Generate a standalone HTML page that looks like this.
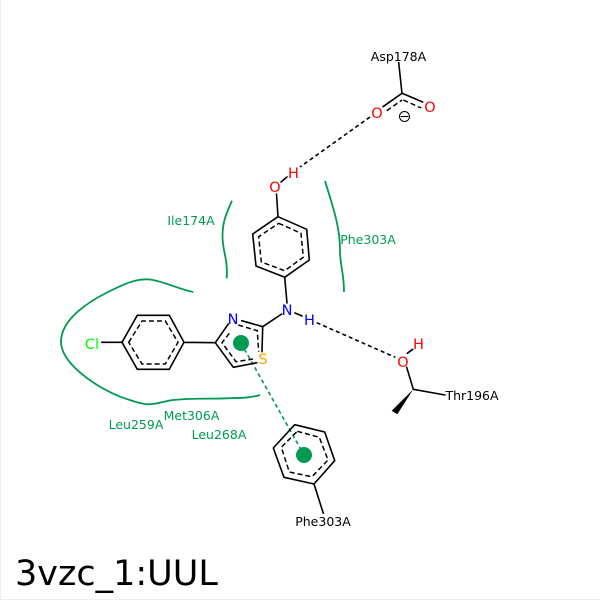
<!DOCTYPE html>
<html>
<head>
<meta charset="utf-8">
<style>
html,body{margin:0;padding:0;background:#fff}
svg{display:block}
text{font-family:"DejaVu Sans",sans-serif}
.b{stroke:#000;stroke-width:1.6;fill:none;stroke-linecap:round;stroke-linejoin:round}
.d{stroke:#000;stroke-width:1.5;fill:none;stroke-dasharray:5 3}
.h{stroke:#000;stroke-width:1.6;fill:none;stroke-dasharray:4 3}
.g{stroke:#009a52;stroke-width:1.8;fill:none}
.l{font-size:12.5px;fill:#000;text-anchor:middle}
.lg{font-size:12.5px;fill:#009a52;text-anchor:middle}
.a{font-size:14.5px;text-anchor:middle}
</style>
</head>
<body>
<svg width="600" height="600" viewBox="0 0 600 600" xmlns="http://www.w3.org/2000/svg">
<rect width="600" height="600" fill="#fff"/>
<path d="M0.5,0V599.5H600" stroke="#eee" fill="none"/>

<!-- green curves -->
<path class="g" d="M232,200.7C226,214 222.5,222 222.5,236C222.5,252 228,258 226.7,278.3"/>
<path class="g" d="M325,181C334,210 340,228 340,250C340,266 344,272 344,292"/>
<path class="g" d="M193.3,292C178,289 166,282 150,279.5C136,278 122,285 108,292C92,300 61,318 61,341.7C61,362 92,385 120,396.7C130,400 140,404 148.3,404.3C157,404.5 164,401 173.3,400C190,398 210,399 226.7,398.3C240,398 250,398 260,395"/>

<!-- hydrophobic contact -->
<line x1="241" y1="343" x2="304" y2="455" stroke="#009a52" stroke-width="1.6" stroke-dasharray="4 3"/>
<circle cx="241" cy="343" r="8" fill="#009a52"/>
<circle cx="304" cy="455" r="8" fill="#009a52"/>

<!-- Asp -->
<path class="b" d="M398.7,62.7L402,93.3L383,106.7M402,93.3L422.7,102"/>
<path class="d" d="M386.7,110.7L402,100M403.3,100L421.3,108" stroke-dasharray="4 3"/>
<circle cx="404.5" cy="116.5" r="5" fill="none" stroke="#000" stroke-width="1"/>
<line x1="400.5" y1="116.5" x2="408.5" y2="116.5" stroke="#000" stroke-width="1"/>

<!-- H bonds -->
<path class="h" d="M370,117L300,167"/>
<path class="h" d="M316.7,322.7L395.3,357.3"/>

<!-- top ring -->
<path class="b" d="M281,182L287,177M276.5,194L278,216.7L306.7,229.3L309.3,260L284.7,277.3L256,266L252.7,234L278,216.7M284.7,277.3L287,303M281.7,314L262.7,326.7M295,313L302,316"/>
<path class="d" d="M278.7,223.3L301,233.3L303.3,257.3L284.7,270.7L261.3,262L258.7,236.7Z"/>

<!-- thiazole -->
<path class="b" d="M228.3,324L215.3,342.7L233.3,367.3L256.7,362.7M241.7,320.7L262.7,326.7L262,351.7"/>
<path class="d" d="M229.3,333.3L222,342.7L236,361.7L253,359M238.3,325L257.3,330.7L258.7,351.7" stroke-dasharray="4 3"/>

<!-- chlorophenyl -->
<path class="b" d="M101.7,342.3L122,342.3L137.3,315.3L169.3,315.3L184,342.3L169.3,369.3L137.3,369.3L122,342.3M184,342.3L215.3,342.7"/>
<path class="d" d="M128.7,342.3L142,321L165.3,321L178,342.3L165.3,364L142,364Z"/>

<!-- bottom ring -->
<path class="b" d="M294.7,424.7L324.7,432L334.7,460.7L314,484L284,477.3L273.3,448ZM314,484L323.3,513.3"/>
<path class="d" d="M297.3,431.3L319.3,437.3L328,460L312,476.7L289.3,472L281.3,447.3Z"/>

<!-- Thr -->
<path class="b" d="M407.3,353.3L412.7,349.3M406.7,367.3L413.3,389.3L445,395"/>
<polygon points="413.3,389.3 391.7,410.7 397.3,414.3" fill="#000"/>

<!-- atoms -->
<text class="a" x="377" y="118" fill="#ff0000">O</text>
<text class="a" x="430" y="112" fill="#ff0000">O</text>
<text class="a" x="275" y="192" fill="#ff0000">O</text>
<text class="a" x="293.5" y="178" fill="#ff0000">H</text>
<text class="a" x="403" y="367" fill="#ff0000">O</text>
<text class="a" x="418.5" y="349" fill="#ff0000">H</text>
<text class="a" x="287" y="315" fill="#0000ff">N</text>
<text class="a" x="309.5" y="325" fill="#0000ff">H</text>
<text class="a" x="233" y="324" fill="#0000ff">N</text>
<text class="a" x="263" y="364" fill="#ffa500">S</text>
<text class="a" x="92" y="349" fill="#00ff00">Cl</text>

<!-- labels -->
<text class="l" x="398.5" y="61">Asp178A</text>
<text class="l" x="472" y="400">Thr196A</text>
<text class="l" x="323" y="526">Phe303A</text>
<text class="lg" x="191" y="225">Ile174A</text>
<text class="lg" x="368" y="244">Phe303A</text>
<text class="lg" x="136" y="429">Leu259A</text>
<text class="lg" x="191.5" y="420">Met306A</text>
<text class="lg" x="219" y="439">Leu268A</text>
<text x="15" y="585" font-size="35" fill="#000">3vzc_1:UUL</text>
</svg>
</body>
</html>
